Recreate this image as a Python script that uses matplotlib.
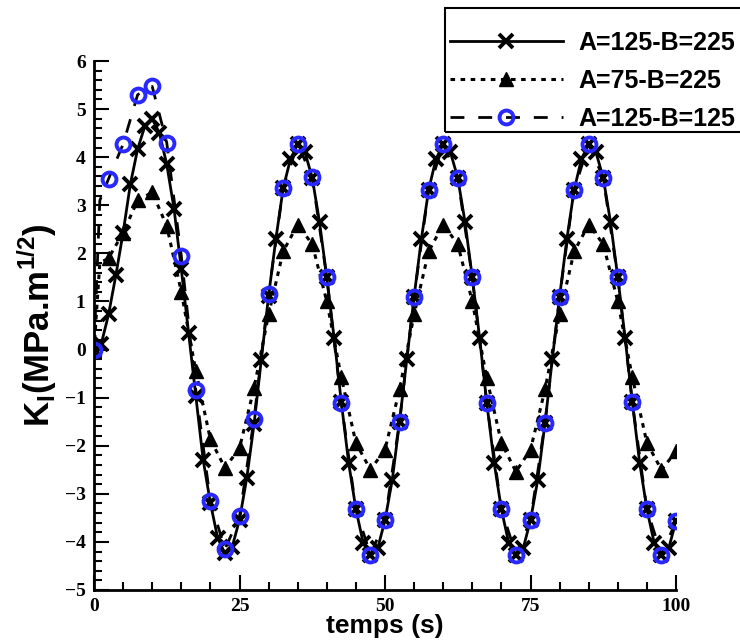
import numpy as np
import matplotlib
matplotlib.use("Agg")
import matplotlib.pyplot as plt
from matplotlib.ticker import MultipleLocator
from matplotlib.patches import Rectangle

# series A=125-B=225 (x markers), one point every 1.25 s
t_x = [i * 1.25 for i in range(81)]
k_x = [0, 0.12, 0.73, 1.54, 2.43, 3.44, 4.17, 4.65, 4.8, 4.5,
       3.85, 2.93, 1.67, 0.35, -0.97, -2.29, -3.19, -3.92, -4.24, -4.1,
       -3.54, -2.67, -1.55, -0.21, 1.12, 2.3, 3.35, 3.96, 4.27, 4.1,
       3.57, 2.65, 1.5, 0.25, -1.1, -2.35, -3.32, -4.02, -4.27, -4.13,
       -3.55, -2.71, -1.5, -0.2, 1.1, 2.3, 3.32, 3.96, 4.27, 4.1,
       3.57, 2.65, 1.5, 0.25, -1.12, -2.35, -3.32, -4.02, -4.27, -4.13,
       -3.55, -2.71, -1.52, -0.2, 1.1, 2.3, 3.32, 3.96, 4.27, 4.1,
       3.57, 2.65, 1.5, 0.25, -1.1, -2.35, -3.32, -4.02, -4.27, -4.13,
       -3.57]

# series A=75-B=225 (triangles)
t_tri = [0, 1.0] + [i * 2.5 for i in range(1, 41)]
k_tri = [0, 1.8, 1.9, 2.43, 3.1, 3.27, 2.57, 1.2, -0.45, -1.87, -2.46,
         -2.05, -0.8, 0.73, 2.04, 2.6, 2.19, 1.0, -0.58, -1.94, -2.5,
         -2.08, -0.83, 0.73, 2.04, 2.6, 2.19, 1.0, -0.6, -1.94, -2.54,
         -2.08, -0.83, 0.73, 2.04, 2.6, 2.19, 1.0, -0.58, -1.94, -2.5,
         -2.12]

# series A=125-B=125 (blue circles)
t_cir = [0, 1.0] + [i * 2.5 for i in range(1, 41)]
k_cir = [0, 3.1, 3.55, 4.27, 5.3, 5.47, 4.3, 1.95, -0.85, -3.15, -4.15,
         -3.47, -1.45, 1.15, 3.35, 4.28, 3.58, 1.5, -1.12, -3.32, -4.27,
         -3.55, -1.5, 1.1, 3.32, 4.27, 3.57, 1.5, -1.12, -3.32, -4.27,
         -3.55, -1.52, 1.1, 3.32, 4.27, 3.57, 1.5, -1.1, -3.32, -4.27,
         -3.57]

labels = ["A=125-B=225", "A=75-B=225", "A=125-B=125"]
marks = [0] + list(range(2, len(t_cir)))

fig = plt.figure(figsize=(7.4, 6.44), dpi=100)
ax = fig.add_axes([94 / 740, 1 - 590 / 644, (676 - 94) / 740, (590 - 61) / 644])

ax.plot(t_x, k_x, color="black", lw=2, marker="x", ms=10, mew=2.8,
        label=labels[0])
ax.plot(t_tri, k_tri, color="black", lw=2.2, ls=(0, (1.5, 1.8)), marker="^",
        ms=10, markevery=marks, label=labels[1])
ax.plot(t_cir, k_cir, color="black", lw=2, ls=(0, (5, 5)), marker="o",
        ms=10, mew=2.8, mec="#2828ff", mfc="none", markevery=marks,
        label=labels[2])

ax.set_xlim(0, 100)
ax.set_ylim(-5, 6)
ax.xaxis.set_major_locator(MultipleLocator(25))
ax.xaxis.set_minor_locator(MultipleLocator(5))
ax.yaxis.set_major_locator(MultipleLocator(1))
ax.yaxis.set_minor_locator(MultipleLocator(0.2))
ax.tick_params(which="both", direction="in", width=1.5, top=False, right=False)
ax.tick_params(which="major", length=11, pad=6)
ax.tick_params(which="minor", length=6)
for s in ["top", "right"]:
    ax.spines[s].set_visible(False)
for s in ["left", "bottom"]:
    ax.spines[s].set_linewidth(2)

for lab in ax.get_xticklabels() + ax.get_yticklabels():
    lab.set_fontfamily("Liberation Serif")
    lab.set_fontweight("bold")
    lab.set_fontsize(14)

ax.set_xlabel("temps (s)", fontfamily="Liberation Sans", fontweight="bold",
              fontsize=19, labelpad=-1)
ax.set_ylabel(r"K$_\mathregular{I}$(MPa.m$^\mathregular{1/2}$)",
              fontfamily="Liberation Sans", fontweight="bold", fontsize=25,
              labelpad=4)

leg = fig.legend(loc="upper left", bbox_to_anchor=(450 / 740, 1 - 31 / 644),
                 prop={"family": "Liberation Sans", "weight": "bold", "size": 18},
                 handlelength=4.5, handletextpad=0.65, labelspacing=0.55,
                 borderpad=0, frameon=False, borderaxespad=0)
fig.patches.append(Rectangle((445 / 740, 1 - 132 / 644), 300 / 740, 124 / 644,
                             transform=fig.transFigure, fill=False,
                             edgecolor="black", lw=1.5))

fig.savefig("out.png", dpi=100)
